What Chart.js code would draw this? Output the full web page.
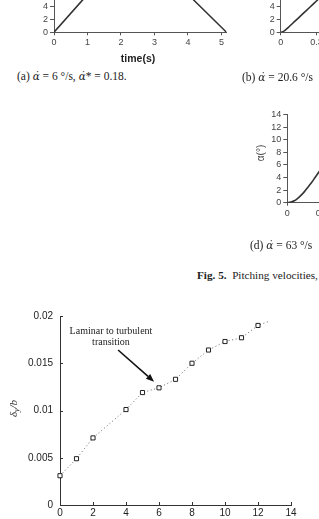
<!DOCTYPE html>
<html><head><meta charset="utf-8">
<script src="https://cdn.jsdelivr.net/npm/chart.js@4"></script>
<style>
html,body{margin:0;padding:0;width:319px;height:519px;overflow:hidden;background:#fff;position:relative;}
canvas{position:absolute;}
.cap{position:absolute;font-family:"Liberation Serif","DejaVu Serif",serif;font-size:11.5px;color:#222;white-space:nowrap;line-height:13px;}
.cap i{font-family:"DejaVu Serif",serif;font-size:10.5px;}
.fig{font-size:11.2px;}
</style></head><body>
<canvas id="ca" width="240" height="158" style="left:0;top:-90px"></canvas>
<canvas id="cb" width="250" height="158" style="left:230px;top:-90px"></canvas>
<canvas id="cd" width="280" height="130" style="left:230px;top:95px"></canvas>
<canvas id="cm" width="319" height="219" style="left:0;top:300px"></canvas>
<div class="cap" style="left:17px;top:70px">(a) <i>α̇</i> = 6 °/s, <i>α̇</i>* = 0.18.</div>
<div class="cap" style="left:242px;top:71px">(b) <i>α̇</i> = 20.6 °/s</div>
<div class="cap" style="left:250px;top:239px">(d) <i>α̇</i> = 63 °/s</div>
<div class="cap fig" style="left:197px;top:269px"><b>Fig. 5.</b>&nbsp;&nbsp;Pitching velocities,</div>
<script>
// ---- top fragment data (pitch angle vs time) ----
const tA = [0, 2.4, 5.15];
const alphaA = [0, 13.9, 0];
const tB = [0, 0.01, 0.02, 0.03, 0.05, 0.1, 0.15, 0.2, 0.25, 0.3, 0.4];
const alphaB = [0, 0.05, 0.15, 0.3, 0.68, 1.71, 2.74, 3.77, 4.8, 5.83, 7.9];
const tD = [0, 0.01, 0.02, 0.03, 0.04, 0.05, 0.06, 0.07, 0.08, 0.09, 0.1, 0.12];
const alphaD = [0, 0.1, 0.3, 0.7, 1.2, 1.8, 2.5, 3.2, 4.0, 4.8, 5.6, 7.0];

// ---- main chart data ----
const xVals = [0, 1, 2, 4, 5, 6, 7, 8, 9, 10, 11, 12];
const deltaY = [0.0031, 0.0049, 0.0071, 0.0101, 0.0119, 0.0124, 0.0133, 0.0150, 0.0164, 0.0173, 0.0177, 0.0190];
const trendEndX = [12.6];
const trendEndY = [0.0194];
const yTicks = [0, 0.005, 0.01, 0.015, 0.02];
const yTickLabels = ['0', '0.005', '0.01', '0.015', '0.02'];
const xTicks = [0, 2, 4, 6, 8, 10, 12, 14];
const annotLines = ['Laminar to turbulent', 'transition'];

const SANS = 'Liberation Sans, Arial, sans-serif';
const SERIF = 'Liberation Serif, Times New Roman, serif';
const pts = (xs, ys) => xs.map((x, i) => ({x, y: ys[i]}));

function smallOpts(o) {
  return {
    animation: false, responsive: false,
    plugins: {legend: {display: false}, tooltip: {enabled: false}},
    layout: {padding: {left: 0, top: o.padTop, right: o.padRight, bottom: 0}},
    scales: {
      x: {type: 'linear', min: 0, max: o.xMax, afterFit: s => { s.height = o.xH; },
        ticks: {stepSize: o.xStep, includeBounds: false, autoSkip: false, font: {size: 9, family: SANS}, color: '#444', padding: 2, maxRotation: 0},
        grid: {drawOnChartArea: false, tickLength: 3, color: '#555'}, border: {color: '#555', width: 1}},
      y: {min: 0, max: o.yMax, afterFit: s => { s.width = o.yW; },
        ticks: {stepSize: 2, includeBounds: false, autoSkip: false, font: {size: 9, family: SANS}, color: '#444', padding: 2},
        grid: {drawOnChartArea: false, tickLength: 4, color: '#555'}, border: {color: '#555', width: 1}}
    }
  };
}
function lineDs(xs, ys, tension) {
  return {data: pts(xs, ys), borderColor: '#333', borderWidth: 1.6, pointRadius: 0, tension: tension || 0, fill: false};
}

new Chart('ca', {
  type: 'line',
  data: {datasets: [lineDs(tA, alphaA)]},
  options: smallOpts({padTop: 18, padRight: 13.5, xMax: 5.15, xStep: 1, xH: 35.7, yMax: 16, yW: 54}),
  plugins: [{id: 'ta', afterDraw(c) {
    const ctx = c.ctx; ctx.save();
    ctx.font = 'bold 10.5px ' + SANS; ctx.fillStyle = '#222'; ctx.textAlign = 'center'; ctx.textBaseline = 'middle';
    ctx.fillText('time(s)', 138, 149.3);
    ctx.restore();
  }}]
});

new Chart('cb', {
  type: 'line',
  data: {datasets: [lineDs(tB, alphaB, 0.3)]},
  options: smallOpts({padTop: 18, padRight: 56.3, xMax: 1, xStep: 0.25, xH: 35.7, yMax: 16, yW: 50.7})
});

new Chart('cd', {
  type: 'line',
  data: {datasets: [lineDs(tD, alphaD, 0.4)]},
  options: smallOpts({padTop: 19.5, padRight: 14.5, xMax: 0.6, xStep: 0.1, xH: 22.3, yMax: 14, yW: 57.3}),
  plugins: [{id: 'td', afterDraw(c) {
    const ctx = c.ctx; ctx.save();
    ctx.translate(31.7, 58); ctx.rotate(-Math.PI / 2);
    ctx.font = '10px ' + SANS; ctx.fillStyle = '#444'; ctx.textAlign = 'center'; ctx.textBaseline = 'middle';
    ctx.fillText('α(°)', 0, 0);
    ctx.restore();
  }}]
});

const mainPlugin = {
  id: 'mainDeco',
  afterDraw(c) {
    const ctx = c.ctx, xs = c.scales.x, ys = c.scales.y, a = c.chartArea;
    ctx.save();
    // inward ticks
    ctx.strokeStyle = '#333'; ctx.lineWidth = 1;
    ctx.beginPath();
    xs.ticks.forEach(t => { const p = Math.round(xs.getPixelForValue(t.value)) + 0.5; ctx.moveTo(p, a.bottom); ctx.lineTo(p, a.bottom - 3); });
    ys.ticks.forEach(t => { const p = Math.round(ys.getPixelForValue(t.value)) + 0.5; ctx.moveTo(a.left, p); ctx.lineTo(a.left + 3, p); });
    ctx.stroke();
    // annotation text
    ctx.fillStyle = '#222'; ctx.font = '10px ' + SERIF; ctx.textAlign = 'center'; ctx.textBaseline = 'middle';
    ctx.fillText(annotLines[0], xs.getPixelForValue(3.09), ys.getPixelForValue(0.01834));
    ctx.fillText(annotLines[1], xs.getPixelForValue(3.09), ys.getPixelForValue(0.01722));
    // arrow
    const x1 = xs.getPixelForValue(3.52), y1 = ys.getPixelForValue(0.0164);
    const x2 = xs.getPixelForValue(5.7), y2 = ys.getPixelForValue(0.01305);
    const ang = Math.atan2(y2 - y1, x2 - x1), L = 8, W = 3.2;
    ctx.strokeStyle = '#111'; ctx.lineWidth = 1.6;
    ctx.beginPath(); ctx.moveTo(x1, y1); ctx.lineTo(x2 - L * Math.cos(ang), y2 - L * Math.sin(ang)); ctx.stroke();
    ctx.fillStyle = '#111';
    ctx.beginPath(); ctx.moveTo(x2, y2);
    ctx.lineTo(x2 - L * Math.cos(ang) + W * Math.sin(ang), y2 - L * Math.sin(ang) - W * Math.cos(ang));
    ctx.lineTo(x2 - L * Math.cos(ang) - W * Math.sin(ang), y2 - L * Math.sin(ang) + W * Math.cos(ang));
    ctx.closePath(); ctx.fill();
    // y title: δ_y / b
    ctx.translate(12.7, (a.top + a.bottom) / 2 - 2); ctx.rotate(-Math.PI / 2);
    ctx.fillStyle = '#333'; ctx.textAlign = 'left'; ctx.textBaseline = 'alphabetic';
    const f1 = 'italic 11px ' + SERIF, f2 = 'italic 8px ' + SERIF;
    ctx.font = f1; const w1 = ctx.measureText('δ').width, w3 = ctx.measureText('/b').width;
    ctx.font = f2; const w2 = ctx.measureText('y').width;
    let x = -(w1 + w2 + w3) / 2;
    ctx.font = f1; ctx.fillText('δ', x, 4); x += w1;
    ctx.font = f2; ctx.fillText('y', x, 6.5); x += w2;
    ctx.font = f1; ctx.fillText('/b', x, 4);
    ctx.restore();
  }
};

new Chart('cm', {
  type: 'scatter',
  data: {datasets: [
    {type: 'line', data: pts(xVals.concat(trendEndX), deltaY.concat(trendEndY)), borderColor: '#666', borderWidth: 1,
      borderDash: [1, 2.6], pointRadius: 0, fill: false, tension: 0, clip: false, order: 2},
    {data: pts(xVals, deltaY), pointStyle: 'rect', pointRadius: 2.9, pointBorderColor: '#222', pointBorderWidth: 1,
      pointBackgroundColor: '#fff', clip: false, order: 1}
  ]},
  options: {
    animation: false, responsive: false,
    plugins: {legend: {display: false}, tooltip: {enabled: false}},
    layout: {padding: {left: 0, top: 16, right: 28, bottom: 0}},
    scales: {
      x: {type: 'linear', min: 0, max: 14, afterFit: s => { s.height = 14; },
        afterBuildTicks: s => { s.ticks = xTicks.map(v => ({value: v})); },
        ticks: {font: {size: 10, family: SANS}, color: '#222', padding: 2, maxRotation: 0, autoSkip: false},
        grid: {display: true, drawOnChartArea: false, drawTicks: false}, border: {color: '#333', width: 1}},
      y: {min: 0, max: 0.02, afterFit: s => { s.width = 60; },
        afterBuildTicks: s => { s.ticks = yTicks.map(v => ({value: v})); },
        ticks: {font: {size: 10, family: SANS}, color: '#222', padding: 7, autoSkip: false,
          callback: v => { const i = yTicks.findIndex(t => Math.abs(t - v) < 1e-9); return i >= 0 ? yTickLabels[i] : ''; }},
        grid: {display: true, drawOnChartArea: false, drawTicks: false}, border: {color: '#333', width: 1}}
    }
  },
  plugins: [mainPlugin]
});
</script>
</body></html>
